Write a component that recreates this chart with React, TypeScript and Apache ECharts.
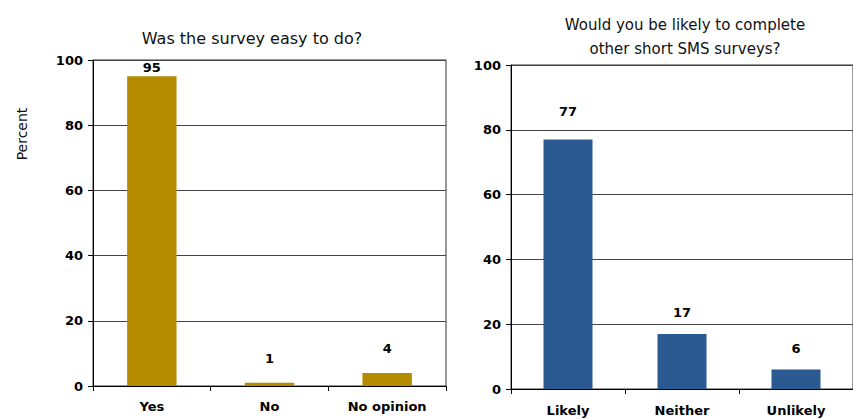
import React, { useEffect, useRef } from "react";
import * as echarts from "echarts";

const leftTitle = "Was the survey easy to do?";
const leftCategories = ["Yes", "No", "No opinion"];
const leftValues = [95, 1, 4];
const leftLabelGaps = [2, 18, 18];

const rightTitle = "Would you be likely to complete\nother short SMS surveys?";
const rightCategories = ["Likely", "Neither", "Unlikely"];
const rightValues = [77, 17, 6];
const rightLabelGaps = [22, 15, 15];

const yAxisName = "Percent";

const FONT = "'DejaVu Sans', Verdana, sans-serif";

function makeAxes(gridIndex: number, cats: string[], labelMargin: number) {
  return {
    x: {
      type: "category",
      gridIndex,
      data: cats,
      axisLine: { lineStyle: { color: "#000", width: 1 } },
      axisTick: { show: true, inside: false, length: 5, lineStyle: { color: "#000" } },
      axisLabel: { color: "#000", fontWeight: "bold", fontSize: 13, fontFamily: FONT, margin: labelMargin },
      splitLine: { show: false },
    },
    y: {
      type: "value",
      gridIndex,
      min: 0,
      max: 100,
      interval: 20,
      axisLine: { show: true, lineStyle: { color: "#000", width: 1 } },
      axisTick: { show: true, length: 5, lineStyle: { color: "#000" } },
      axisLabel: { color: "#000", fontWeight: "bold", fontSize: 13, fontFamily: FONT, margin: 10 },
      splitLine: { show: true, lineStyle: { color: "#444", width: 1 } },
    },
  };
}

export default function App() {
  const ref = useRef<HTMLDivElement>(null);
  useEffect(() => {
    if (!ref.current) return;
    const chart = echarts.init(ref.current, undefined, { renderer: "svg" });
    const a0 = makeAxes(0, leftCategories, 14);
    const a1 = makeAxes(1, rightCategories, 15);
    const mkData = (vals: number[], gaps: number[]) =>
      vals.map((v, i) => ({ value: v, label: { distance: gaps[i] } }));
    chart.setOption({
      animation: false,
      backgroundColor: "#fff",
      title: [
        {
          text: leftTitle,
          left: 247,
          top: 25,
          textAlign: "center",
          textStyle: { fontFamily: FONT, fontSize: 16, fontWeight: "normal", color: "#111" },
        },
        {
          text: rightTitle,
          left: 680,
          top: 8,
          textAlign: "center",
          textStyle: { fontFamily: FONT, fontSize: 15, fontWeight: "normal", color: "#111", lineHeight: 24 },
        },
      ],
      grid: [
        { left: 93, top: 60, width: 353, height: 326, show: true, borderColor: "#333", borderWidth: 1, backgroundColor: "transparent" },
        { left: 511, top: 65, width: 345, height: 324, show: true, borderColor: "#333", borderWidth: 1, backgroundColor: "transparent" },
      ],
      xAxis: [a0.x, a1.x],
      yAxis: [a0.y, a1.y],
      series: [
        {
          type: "bar",
          xAxisIndex: 0,
          yAxisIndex: 0,
          data: mkData(leftValues, leftLabelGaps),
          barCategoryGap: "58%",
          itemStyle: { color: "#B58B00" },
          label: { show: true, position: "top", color: "#000", fontWeight: "bold", fontSize: 13, fontFamily: FONT },
        },
        {
          type: "bar",
          xAxisIndex: 1,
          yAxisIndex: 1,
          data: mkData(rightValues, rightLabelGaps),
          barCategoryGap: "57%",
          itemStyle: { color: "#2B5A93" },
          label: { show: true, position: "top", color: "#000", fontWeight: "bold", fontSize: 13, fontFamily: FONT },
        },
      ],
      graphic: [
        {
          type: "text",
          x: 22,
          y: 134,
          rotation: Math.PI / 2,
          style: {
            text: yAxisName,
            fontFamily: FONT,
            fontSize: 14,
            fill: "#111",
            align: "center",
            verticalAlign: "middle",
          },
        },
      ],
    });
    return () => chart.dispose();
  }, []);
  return (
    <div
      ref={ref}
      style={{ position: "fixed", left: 0, top: 0, width: 853, height: 419 }}
    />
  );
}
